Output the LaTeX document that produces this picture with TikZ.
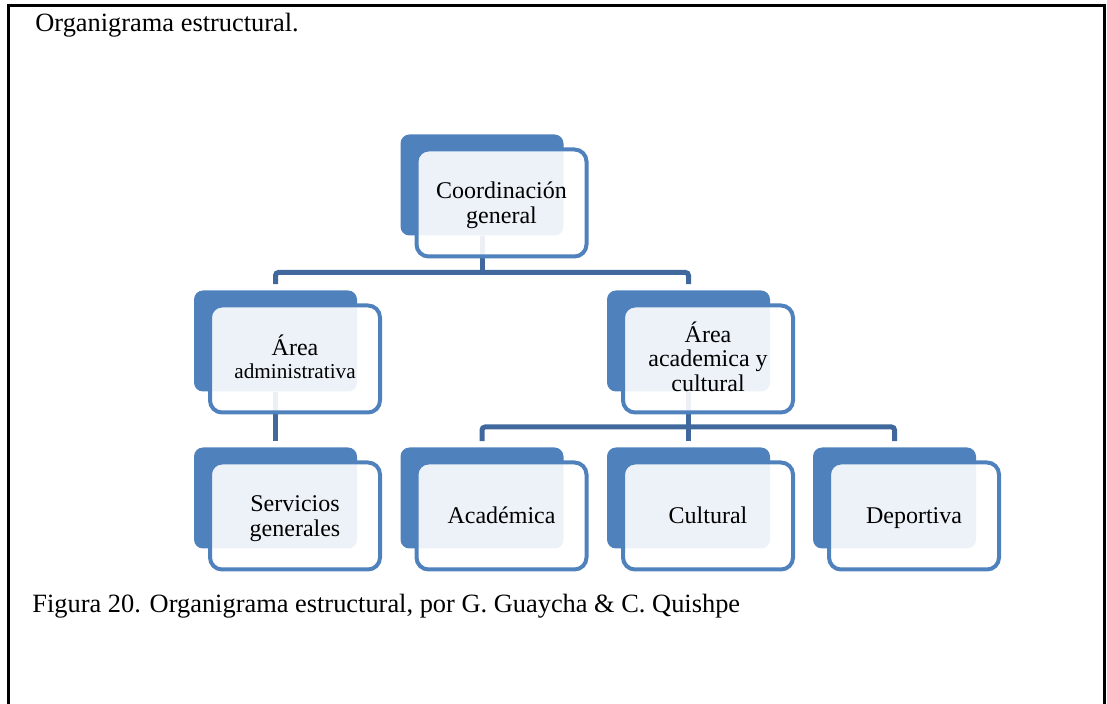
\documentclass[tikz,border=0pt]{standalone}
\usepackage{fontspec}
\setmainfont{Liberation Serif}
\usetikzlibrary{calc}
\definecolor{accblue}{HTML}{4F81BD}
\definecolor{connblue}{RGB}{64,104,156}
\newcommand{\topstrut}{\rule{0pt}{11pt}}
\newcommand{\botstrut}{\rule[-3pt]{0pt}{0pt}}
\begin{document}
\begin{tikzpicture}[x=0.5pt,y=-0.5pt,
  backbox/.style={draw=none, fill=accblue, rounded corners=4.5pt, minimum width=81.5pt, minimum height=50.5pt, inner sep=0pt},
  frontbox/.style={draw=accblue, line width=2pt, fill=white, fill opacity=0.9, text opacity=1, rounded corners=6pt, minimum width=85pt, minimum height=53.5pt, inner sep=0pt, align=center, font=\fontsize{12}{12.3}\selectfont},
  conn/.style={draw=connblue, line width=2.5pt, rounded corners=1.5pt},
  plaintext/.style={inner sep=0pt, font=\fontsize{13.2}{15}\selectfont}
]
\useasboundingbox (0,0) rectangle (1107,704);
% frame
\draw[line width=1.25pt] (8.5,704) -- (8.5,5.5) -- (1104.5,5.5) -- (1104.5,704);
% texts
\node[plaintext, anchor=base west] (title) at (35,31.5) {Organigrama estructural.};
\node[plaintext, anchor=base west] (caption) at (32,612.5) {Figura 20. Organigrama estructural, por G. Guaycha \& C. Quishpe};
% back boxes
\node[backbox] (coordB) at (482,185) {};
\node[backbox] (adminB) at (275.5,341) {};
\node[backbox] (acadB) at (688.5,341) {};
\node[backbox] (servB) at (275.5,498) {};
\node[backbox] (academB) at (482,498) {};
\node[backbox] (cultB) at (688.5,498) {};
\node[backbox] (depB) at (894.5,498) {};
% connectors
\coordinate (bus1) at (482,272.5);
\coordinate (bus2) at (688.5,427);
\draw[conn] (coordB.south) -- (bus1);
\draw[conn] ($(adminB.north)+(0,-6)$) |- (bus1) -| ($(acadB.north)+(0,-6)$);
\draw[conn] (adminB.south) -- ($(servB.north)+(0,-6)$);
\draw[conn] (acadB.south) -- ($(cultB.north)+(0,-6)$);
\draw[conn] ($(academB.north)+(0,-6)$) |- (bus2) -| ($(depB.north)+(0,-6)$);
% front boxes
\node[frontbox] (coord) at (501.5,203) {\topstrut Coordinación\\general\botstrut};
\node[frontbox] (admin) at (295,359) {\topstrut Área\\[-1pt]{\fontsize{10.6}{12}\selectfont administrativa}\botstrut};
\node[frontbox] (acad) at (708,359) {\topstrut Área\\academica y\\cultural\botstrut};
\node[frontbox] (serv) at (295,516) {\topstrut Servicios\\generales\botstrut};
\node[frontbox] (academ) at (501.5,516) {\topstrut Académica\botstrut};
\node[frontbox] (cult) at (708,516) {\topstrut Cultural\botstrut};
\node[frontbox] (dep) at (914,516) {\topstrut Deportiva\botstrut};
\end{tikzpicture}
\end{document}
